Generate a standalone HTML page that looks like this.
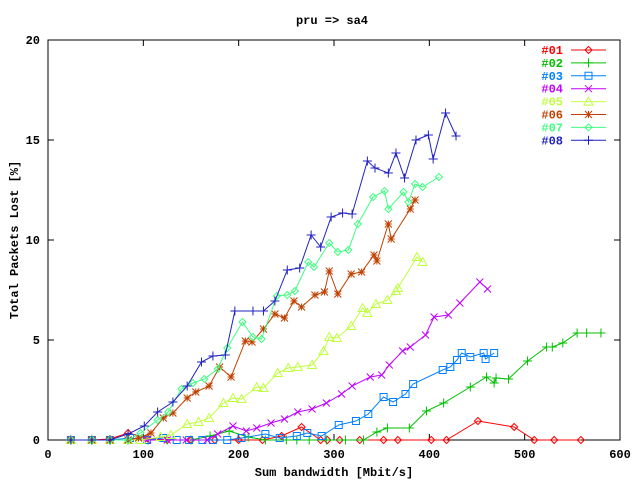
<!DOCTYPE html>
<html><head><meta charset="utf-8"><style>
body{margin:0;background:#fff}
svg{display:block}
text{font-family:"Liberation Mono",monospace;font-weight:bold;font-size:12px}
</style></head><body>
<svg id="chart" width="640" height="480" viewBox="0 0 640 480" xmlns="http://www.w3.org/2000/svg">
<text x="332" y="24" text-anchor="middle">pru =&gt; sa4</text>
<text x="334" y="476" text-anchor="middle">Sum bandwidth [Mbit/s]</text>
<text transform="translate(18,240) rotate(-90)" text-anchor="middle">Total Packets Lost [%]</text>
<g id="axes"></g>
<g id="series"></g>
<g id="legend"></g>
</svg>
<script>
const xTicks=[0,100,200,300,400,500,600];
const yTicks=[0,5,10,15,20];
const names=["#01","#02","#03","#04","#05","#06","#07","#08"];
const colors=["#ff0000","#00c000","#0080ff","#c000ff","#c0ff40","#c04000","#40ff80","#2020c0"];
const markers=["diamond","plus","square","cross","triangle","star","diamond","plus"];
const x01=[24,46,65,84,104,125,150,175,200,225,245,266,286,293,306,327,352,367,402,418,451,489,510,531,559];
const y01=[0,0,0.05,0.35,0.1,0,0,0,0,0,0.2,0.65,0,0,0,0,0,0,0,0,0.95,0.65,0,0,0];
const x02=[24,46,65,84,105,125,150,170,190,210,228,250,261,274,292,312,331,345,356,379,397,415,443,460,468,470,483,503,523,529,540,555,565,580];
const y02=[0,0,0,0,0,0,0,0.2,0.45,0.15,0,0,0,0,0,0,0,0.4,0.6,0.6,1.45,1.85,2.65,3.15,2.85,3.1,3.05,3.95,4.65,4.65,4.85,5.35,5.35,5.35];
const x03=[24,46,65,86,104,121,135,148,162,173,188,203,228,243,261,272,287,305,323,336,352,362,375,383,414,422,429,434,443,457,459,468];
const y03=[0,0,0,0.1,0,0.1,0,0,0,0,0,0.1,0.3,0.1,0.2,0.35,0.2,0.75,0.95,1.3,2.15,1.9,2.3,2.8,3.5,3.65,4.0,4.35,4.15,4.35,4.05,4.35];
const x04=[24,46,65,84,104,125,145,167,178,194,208,219,234,248,262,277,292,308,319,338,350,358,372,380,396,405,420,432,453,461];
const y04=[0,0,0,0,0,0,0,0,0.3,0.7,0.45,0.6,0.85,1.05,1.4,1.55,1.85,2.3,2.7,3.15,3.25,3.75,4.45,4.65,5.25,6.15,6.25,6.85,7.9,7.55];
const x05=[24,46,65,84,97,118,129,146,158,169,184,194,203,219,226,241,252,262,277,289,295,303,318,330,335,344,356,365,367,387,393];
const y05=[0,0,0,0,0,0.15,0.25,0.8,0.9,1.1,1.85,2.1,2.05,2.65,2.6,3.35,3.6,3.65,3.75,4.45,5.15,5.1,5.7,6.6,6.35,6.8,7.0,7.45,7.6,9.15,8.9];
const x06=[24,46,65,84,95,108,121,131,146,155,169,180,192,207,214,226,238,248,258,266,280,290,295,304,318,329,342,345,357,360,380,385];
const y06=[0,0,0,0,0.1,0.35,1.1,1.35,2.1,2.4,2.7,3.65,3.15,4.95,4.9,5.55,6.3,6.1,6.95,6.65,7.25,7.4,8.45,7.3,8.3,8.4,9.25,8.95,10.8,10.05,11.55,12.0];
const x07=[24,46,65,84,97,115,126,140,152,164,178,188,204,215,224,240,251,259,273,279,295,304,315,325,341,353,357,373,378,385,393,410];
const y07=[0,0,0,0,0.35,1,1.4,2.55,2.85,3.05,3.55,4.6,5.9,5.15,5.05,7.2,7.25,7.45,8.9,8.65,9.85,9.4,9.5,10.8,12.15,12.45,11.55,12.4,11.9,12.8,12.65,13.15];
const x08=[24,46,65,84,101,115,131,146,161,173,186,196,215,226,238,251,264,276,286,297,309,319,335,343,357,365,374,386,399,404,417,428];
const y08=[0,0,0,0.3,0.7,1.4,1.9,2.7,3.9,4.2,4.25,6.45,6.45,6.45,6.95,8.5,8.6,10.25,9.65,11.15,11.35,11.3,13.95,13.6,13.35,14.35,13.1,15,15.25,14.05,16.35,15.2];
const xs=[x01,x02,x03,x04,x05,x06,x07,x08];
const ys=[y01,y02,y03,y04,y05,y06,y07,y08];

const L=48,R=620,T=40,B=440;
function sx(v){return L+(v-0)/(600-0)*(R-L);}
function sy(v){return B-(v-0)/(20-0)*(B-T);}
const NS="http://www.w3.org/2000/svg";
function mk(tag,parent,attrs){const e=document.createElementNS(NS,tag);for(const k in attrs)e.setAttribute(k,attrs[k]);parent.appendChild(e);return e;}
const axes=document.getElementById('axes');
const fr=mk('rect',axes,{x:L,y:T,width:R-L,height:B-T,fill:'none',stroke:'#000','stroke-width':1});


xTicks.forEach(v=>{
  const x=sx(v);
  const t1=mk('path',axes,{d:`M${x},${B}v-6M${x},${T}v6`,stroke:'#000'});
  
  
  const tl=mk('text',axes,{x:x,y:B+18,'text-anchor':'middle'});
  tl.textContent=v;
  
  
});
yTicks.forEach(v=>{
  const y=sy(v);
  const t1=mk('path',axes,{d:`M${L},${y}h6M${R},${y}h-6`,stroke:'#000'});
  
  
  const tl=mk('text',axes,{x:L-8,y:y+4,'text-anchor':'end'});
  tl.textContent=v;
  
  
});
function marker(g,type,x,y,c){
  let d;const s=3.5;
  if(type==='diamond')d=`M${x},${y-s}L${x+s},${y}L${x},${y+s}L${x-s},${y}Z`;
  else if(type==='plus')d=`M${x-s-1},${y}h${2*s+2}M${x},${y-s-1}v${2*s+2}`;
  else if(type==='square')d=`M${x-s},${y-s}h${2*s}v${2*s}h${-2*s}Z`;
  else if(type==='cross')d=`M${x-s},${y-s}L${x+s},${y+s}M${x-s},${y+s}L${x+s},${y-s}`;
  else if(type==='triangle')d=`M${x},${y-s-1}L${x+s+1},${y+s}L${x-s-1},${y+s}Z`;
  else d=`M${x-s},${y}h${2*s}M${x},${y-s}v${2*s}M${x-s},${y-s}L${x+s},${y+s}M${x-s},${y+s}L${x+s},${y-s}`;
  const p=mk('path',g,{d:d,fill:'none',stroke:c,'stroke-width':1});
  return p;
}
const sg=document.getElementById('series');
xs.forEach((xa,i)=>{
  const g=mk('g',sg,{});
  
  
  const pts=xa.map((v,j)=>sx(v)+','+sy(ys[i][j])).join(' ');
  const pl=mk('polyline',g,{points:pts,fill:'none',stroke:colors[i],'stroke-width':1});
  
  
  xa.forEach((v,j)=>{
    const m=marker(g,markers[i],sx(v),sy(ys[i][j]),colors[i]);
    
    
  });
});
const lg=document.getElementById('legend');
names.forEach((n,i)=>{
  const y=50+i*12.9;
  const g=mk('g',lg,{});
  
  
  const t=mk('text',g,{x:563,y:y+4,'text-anchor':'end',fill:colors[i]});
  t.textContent=n;
  mk('path',g,{d:`M571,${y}H606`,stroke:colors[i]});
  marker(g,markers[i],588.5,y,colors[i]);
});
</script>
</body></html>
